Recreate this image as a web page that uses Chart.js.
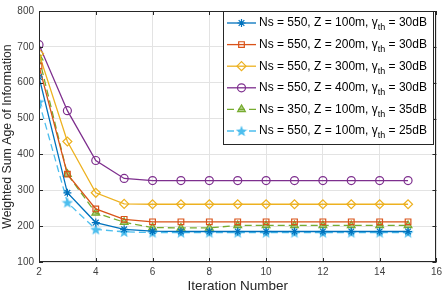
<!DOCTYPE html>
<html>
<head>
<meta charset="utf-8">
<script src="https://cdn.jsdelivr.net/npm/chart.js@4"></script>
<style>
  html, body { margin: 0; padding: 0; background: #fff; }
  #wrap { width: 446px; height: 294px; }
</style>
</head>
<body>
<div id="wrap"><canvas id="aoiChart" width="446" height="294"></canvas></div>
<script>
// Data
const iterations = [2, 3, 4, 5, 6, 7, 8, 9, 10, 11, 12, 13, 14, 15];
const ns550z100g30 = [616, 293, 210, 191, 186, 185, 185, 185, 185, 185, 185, 185, 185, 185];
const ns550z200g30 = [647, 345, 248, 219, 212, 212, 212, 212, 212, 212, 212, 212, 212, 212];
const ns550z300g30 = [681, 436, 293, 262, 261, 261, 261, 261, 261, 261, 261, 261, 261, 261];
const ns550z400g30 = [706, 522, 383, 333, 327, 327, 327, 327, 327, 327, 327, 327, 327, 327];
const ns350z100g35 = [670, 345, 237, 211, 196, 195, 195, 202, 202, 202, 202, 202, 202, 202];
const ns550z100g25 = [547, 266, 191, 184, 182, 182, 182, 182, 182, 182, 182, 182, 182, 182];
const seriesLabels = [
    'Ns = 550, Z = 100m, γ_th = 30dB',
    'Ns = 550, Z = 200m, γ_th = 30dB',
    'Ns = 550, Z = 300m, γ_th = 30dB',
    'Ns = 550, Z = 400m, γ_th = 30dB',
    'Ns = 350, Z = 100m, γ_th = 35dB',
    'Ns = 550, Z = 100m, γ_th = 25dB'
];
const xTicks = [2, 4, 6, 8, 10, 12, 14, 16];
const yTicks = [100, 200, 300, 400, 500, 600, 700, 800];

const FONT = '"Liberation Sans", Arial, sans-serif';
const AXIS_COLOR = '#262626';
const TICK_COLOR = '#404040';

// filled 5-point star marker (MATLAB pentagram)
function makeStar(color, size) {
    const c = document.createElement('canvas');
    c.width = size; c.height = size;
    const g = c.getContext('2d');
    const cx = size / 2, cy = size / 2 + 0.5, R = size / 2, r = R * 0.42;
    g.beginPath();
    for (let i = 0; i < 10; i++) {
        const rad = i % 2 === 0 ? R : r;
        const a = -Math.PI / 2 + i * Math.PI / 5;
        g.lineTo(cx + rad * Math.cos(a), cy + rad * Math.sin(a));
    }
    g.closePath();
    g.fillStyle = color;
    g.fill();
    return c;
}
const cyanStar = makeStar('#4DBEEE', 12);

function toPoints(vals) {
    return vals.map((v, i) => ({ x: iterations[i], y: v }));
}

const datasets = [
    { data: toPoints(ns550z100g30), borderColor: '#0072BD', backgroundColor: '#0072BD', pointStyle: 'star', pointRadius: 4, borderDash: [] },
    { data: toPoints(ns550z200g30), borderColor: '#D95319', backgroundColor: 'rgba(0,0,0,0)', pointStyle: 'rect', pointRadius: 4, borderDash: [] },
    { data: toPoints(ns550z300g30), borderColor: '#EDB120', backgroundColor: 'rgba(0,0,0,0)', pointStyle: 'rectRot', pointRadius: 4.5, borderDash: [] },
    { data: toPoints(ns550z400g30), borderColor: '#7E2F8E', backgroundColor: 'rgba(0,0,0,0)', pointStyle: 'circle', pointRadius: 4, borderDash: [] },
    { data: toPoints(ns350z100g35), borderColor: '#77AC30', backgroundColor: 'rgba(119,172,48,0.55)', pointStyle: 'triangle', pointRadius: 4.5, borderDash: [7, 4] },
    { data: toPoints(ns550z100g25), borderColor: '#4DBEEE', backgroundColor: '#4DBEEE', pointStyle: cyanStar, pointRadius: 6, borderDash: [7, 4] }
].map((d, i) => Object.assign({
    label: seriesLabels[i],
    borderWidth: 1.3,
    pointBorderWidth: 1.2,
    pointBorderColor: d.borderColor,
    pointBackgroundColor: d.backgroundColor,
    tension: 0
}, d));

// box + inward ticks, like MATLAB axes
const boxPlugin = {
    id: 'box',
    afterDraw(chart) {
        const { ctx, chartArea: a, scales } = chart;
        ctx.save();
        ctx.strokeStyle = AXIS_COLOR;
        ctx.lineWidth = 1;
        ctx.strokeRect(Math.round(a.left) + 0.5, Math.round(a.top) + 0.5, Math.round(a.right - a.left) - 1, Math.round(a.bottom - a.top) - 1);
        ctx.beginPath();
        xTicks.forEach(t => {
            const x = Math.round(scales.x.getPixelForValue(t)) + 0.5;
            ctx.moveTo(x, a.bottom); ctx.lineTo(x, a.bottom - 4);
            ctx.moveTo(x, a.top); ctx.lineTo(x, a.top + 4);
        });
        yTicks.forEach(t => {
            const y = Math.round(scales.y.getPixelForValue(t)) + 0.5;
            ctx.moveTo(a.left, y); ctx.lineTo(a.left + 4, y);
            ctx.moveTo(a.right, y); ctx.lineTo(a.right - 4, y);
        });
        ctx.stroke();
        ctx.restore();
    }
};

// legend drawn by hand so gamma can carry the "th" subscript
const legendPlugin = {
    id: 'mlLegend',
    afterDraw(chart) {
        const ctx = chart.ctx;
        const bx = 223.5, by = 11.5, bw = 210, bh = 133;
        ctx.save();
        ctx.fillStyle = '#fff';
        ctx.fillRect(bx, by, bw, bh);
        ctx.strokeStyle = AXIS_COLOR;
        ctx.lineWidth = 1;
        ctx.strokeRect(bx, by, bw, bh);
        chart.data.datasets.forEach((ds, i) => {
            const y = 23 + i * 21.6;
            ctx.strokeStyle = ds.borderColor;
            ctx.lineWidth = ds.borderWidth;
            ctx.setLineDash(ds.borderDash);
            ctx.beginPath();
            ctx.moveTo(227, y); ctx.lineTo(256, y);
            ctx.stroke();
            ctx.setLineDash([]);
            ctx.fillStyle = ds.pointBackgroundColor;
            ctx.strokeStyle = ds.pointBorderColor;
            ctx.lineWidth = ds.pointBorderWidth;
            Chart.helpers.drawPoint(ctx, { pointStyle: ds.pointStyle, radius: ds.pointRadius, borderWidth: ds.pointBorderWidth, rotation: 0 }, 241.5, y);
            const parts = ds.label.split('_th');
            ctx.fillStyle = '#000';
            ctx.textBaseline = 'middle';
            ctx.textAlign = 'left';
            ctx.font = '12px ' + FONT;
            let x = 259;
            ctx.fillText(parts[0], x, y);
            x += ctx.measureText(parts[0]).width;
            ctx.font = '9px ' + FONT;
            ctx.fillText('th', x, y + 5);
            x += ctx.measureText('th').width;
            ctx.font = '12px ' + FONT;
            ctx.fillText(parts[1], x, y);
        });
        ctx.restore();
    }
};

new Chart(document.getElementById('aoiChart'), {
    type: 'line',
    data: { datasets: datasets },
    options: {
        responsive: false,
        animation: false,
        layout: { padding: { top: 4, right: 5, left: 0, bottom: 0 } },
        plugins: { legend: { display: false }, tooltip: { enabled: false } },
        scales: {
            x: {
                type: 'linear', min: 2, max: 16,
                afterFit: s => { s.height = 32; },
                afterBuildTicks: s => { s.ticks = xTicks.map(v => ({ value: v })); },
                grid: { color: '#e3e3e3', drawTicks: false },
                border: { display: false },
                ticks: { padding: 4, color: TICK_COLOR, font: { family: FONT, size: 10 }, maxRotation: 0 },
                title: { display: true, text: 'Iteration Number', color: AXIS_COLOR, font: { family: FONT, size: 13.5 }, padding: { top: 0, bottom: 0 } }
            },
            y: {
                min: 100, max: 800,
                afterFit: s => { s.width = 39; },
                afterBuildTicks: s => { s.ticks = yTicks.map(v => ({ value: v })); },
                grid: { color: '#e3e3e3', drawTicks: false },
                border: { display: false },
                ticks: { padding: 5, color: TICK_COLOR, font: { family: FONT, size: 10 } },
                title: { display: true, text: 'Weighted Sum Age of Information', color: AXIS_COLOR, font: { family: FONT, size: 12.3 }, padding: { top: 0, bottom: 2 } }
            }
        }
    },
    plugins: [boxPlugin, legendPlugin]
});
</script>
</body>
</html>
